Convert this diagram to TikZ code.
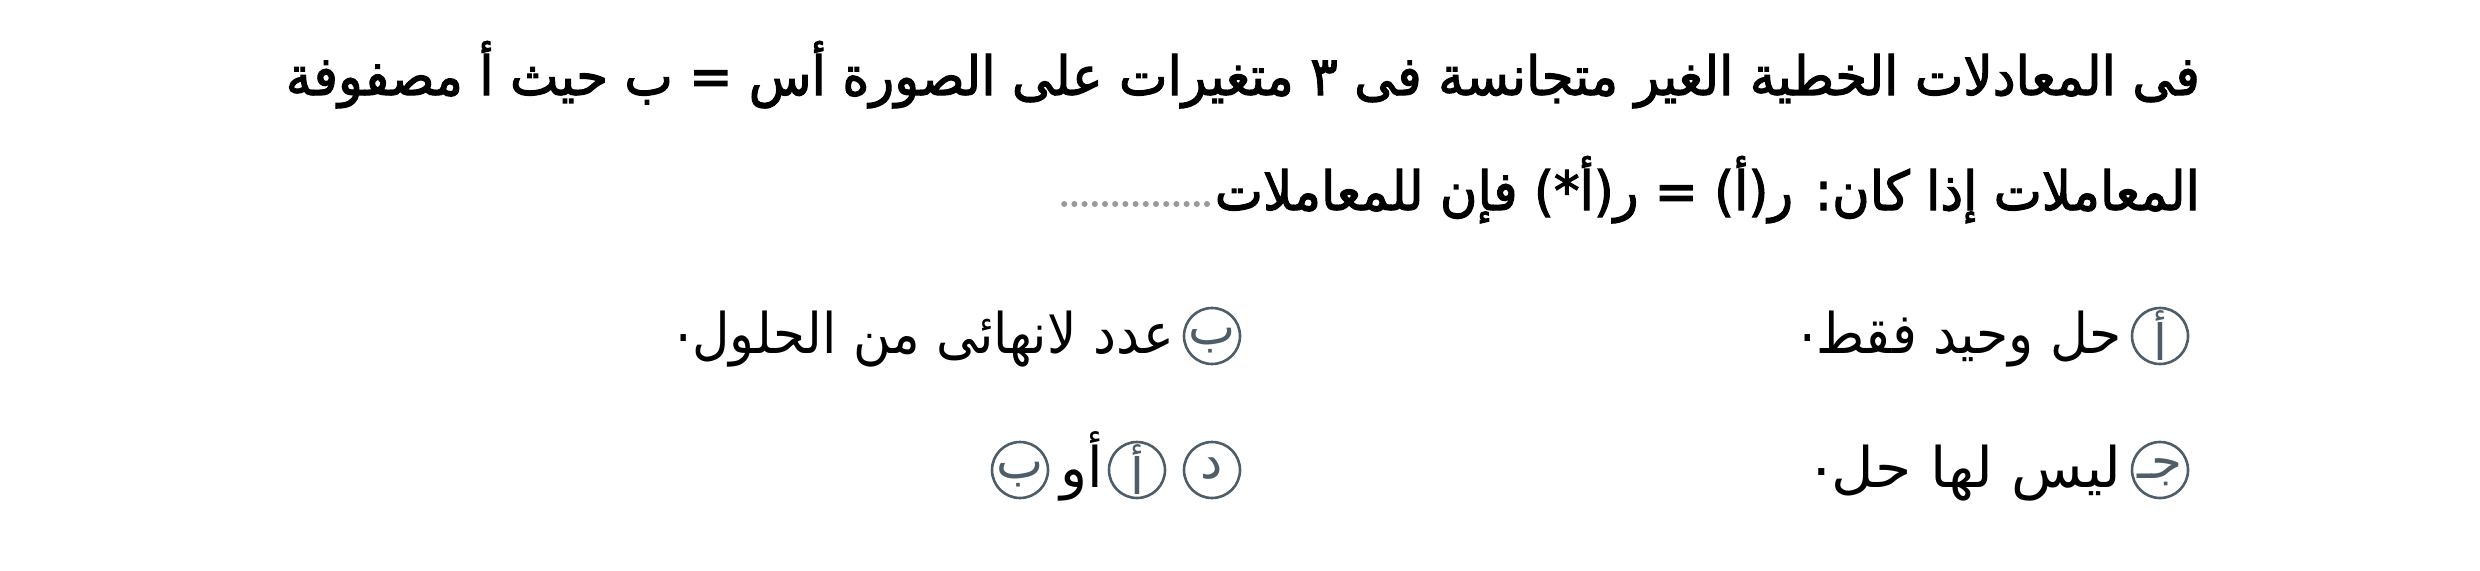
\documentclass[tikz,border=0pt]{standalone}
\usepackage{fontspec}
\usepackage{graphicx}
\TeXXeTstate=1
\newfontfamily\arabicfont[Script=Arabic]{DejaVu Sans}
\newfontfamily\arabicboldfont[Script=Arabic,FakeBold=2.2]{DejaVu Sans}
\definecolor{slate}{HTML}{4E5D68}
\definecolor{leadergray}{HTML}{999999}
\tikzset{
  qline/.style={anchor=base east, inner sep=0pt, font=\arabicboldfont\fontsize{54}{60}\selectfont},
  opttext/.style={anchor=base east, inner sep=0pt, font=\arabicfont\fontsize{56}{64}\selectfont},
  badge/.style={circle, draw=slate, line width=2.6pt, minimum size=56pt, inner sep=0pt,
                text=slate, font=\arabicfont\fontsize{50}{56}\selectfont},
  lowbadge/.style={badge, text height=22pt, text depth=6pt},
  leader/.style={draw=leadergray, line width=6pt, line cap=round, dash pattern=on 0pt off 10.2pt},
}
\newcommand\fitto[2]{\resizebox{#1}{\height}{#2}}
\newcommand\rdot{\raisebox{12pt}{.}}
\begin{document}
\begin{tikzpicture}[x=1pt,y=-1pt]
\useasboundingbox (0,0) rectangle (2480,570);
% question
\node[qline] (l1) at (2200,95) {\fitto{1914pt}{\beginR فى المعادلات الخطية الغير متجانسة فى ٣ متغيرات على الصورة أس = ب حيث أ مصفوفة\endR}};
\node[qline] (l2) at (2200,210) {\fitto{985pt}{\beginR المعاملات إذا كان: ر(أ) = ر(أ*) فإن للمعاملات\endR}};
\coordinate (dotsR) at (1207,204);
\coordinate (dotsL) at (1064,204);
\draw[leader] (dotsR) -- (dotsL);
% option a
\node[badge] (ca) at (2160,336) {أ};
\node[opttext] (ta) at (2122,353) {\fitto{322pt}{\beginR حل وحيد فقط\rdot\endR}};
% option b
\node[lowbadge] (cb) at (1212,336) {ب};
\node[opttext] (tb) at (1174,353) {\fitto{498pt}{\beginR عدد لانهائى من الحلول\rdot\endR}};
% option c
\node[lowbadge] (cc) at (2160,470) {جـ};
\node[opttext] (tc) at (2122,487) {\fitto{309pt}{\beginR ليس لها حل\rdot\endR}};
% option d
\node[lowbadge] (cd) at (1212,470) {د};
\node[badge] (cda) at (1137,470) {أ};
\node[opttext] (tor) at (1103,487) {\beginR أو\endR};
\node[lowbadge] (cdb) at (1020,470) {ب};
\end{tikzpicture}
\end{document}
